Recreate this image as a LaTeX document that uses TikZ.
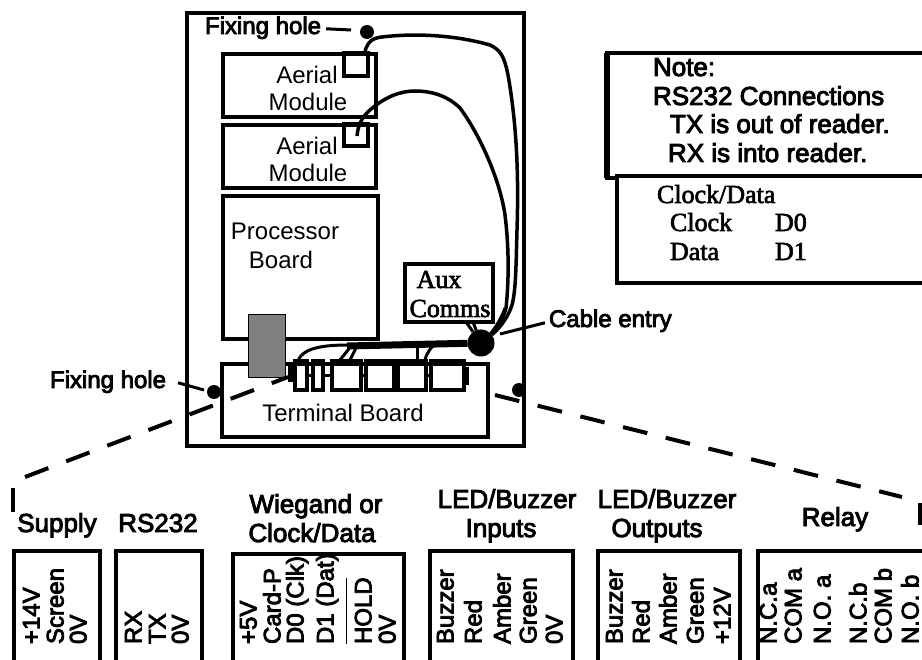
\documentclass[tikz,border=0pt]{standalone}
\usepackage{fontspec}
\setmainfont{Liberation Sans}
\newfontfamily\thinsans{Liberation Sans}
\newfontfamily\heavysans[FakeBold=3.5]{Liberation Sans}
\newfontfamily\heavyserif[FakeBold=2.5]{Liberation Serif}
\usetikzlibrary{positioning}
\usetikzlibrary{calc}

\begin{document}
\begin{tikzpicture} [x=1pt, y=-1pt]
% ------------------------------------------------- 
\tikzset{
  base/.style={inner sep=0pt, outer sep=0pt},
  rect/.style={base, draw, rectangle, anchor=north west, line width=4pt},
  slot/.style={base, draw, rectangle, anchor=north west, line width=3.5pt},
  hole/.style={base, circle, fill=black, minimum size=14pt},
  plain/.style={base, font=\thinsans\fontsize{24}{24}\selectfont},
  head/.style={base, anchor=base, font=\heavysans\fontsize{26}{26}\selectfont},
  note/.style={base, anchor=base west, font=\heavysans\fontsize{26}{26}\selectfont},
  clk/.style={base, anchor=base west, font=\heavyserif\fontsize{26}{26}\selectfont},
  pin/.style={base, rotate=90, anchor=west, text height=17pt, text depth=0pt, font=\heavysans\fontsize{24}{24}\selectfont},
  line/.style={draw, line width=3pt},
  cable/.style={draw, line width=3.5pt},
  dashline/.style={draw, line width=4pt, dash pattern=on 25pt off 19pt},
}
\useasboundingbox (0,0) rectangle (922,660);

    % enclosure and boards
    \node [rect, minimum width=337pt, minimum height=433pt] (case) at (187,13) {};
    \node [rect, minimum width=153pt, minimum height=63pt] (aerial1) at (223,54) {};
    \node [rect, minimum width=153pt, minimum height=63pt] (aerial2) at (223,125) {};
    \node [slot, minimum width=24pt, minimum height=23pt] (port1) at (344,53) {};
    \node [slot, minimum width=24pt, minimum height=22pt] (port2) at (344,124) {};
    \node [rect, minimum width=155pt, minimum height=143pt] (proc) at (223,196) {};
    \node [rect, minimum width=266pt, minimum height=73pt] (term) at (222,364) {};
    \node [rect, line width=3.5pt, minimum width=88pt, minimum height=58pt] (aux) at (405,264) {};

    \node [plain] (lblaerial1a) at (307,75) {Aerial};
    \node [plain] (lblaerial1b) at (308,102) {Module};
    \node [plain] (lblaerial2a) at (307,146) {Aerial};
    \node [plain] (lblaerial2b) at (308,173) {Module};
    \node [plain] (lblproca) at (285,231) {Processor};
    \node [plain] (lblprocb) at (281,260) {Board};
    \node [plain] (lblterm) at (343,413) {Terminal Board};
    \node [clk, anchor=base] (lblauxa) at (439,288) {Aux};
    \node [clk, anchor=base] (lblauxb) at (450,317) {Comms};

    % terminals along the top of the board
    \node [slot, minimum width=12pt, minimum height=29pt] (t1) at (295,361) {};
    \node [slot, minimum width=10pt, minimum height=29pt] (t2) at (313,361) {};
    \node [slot, minimum width=29pt, minimum height=29pt] (t3) at (332,361) {};
    \node [slot, minimum width=28pt, minimum height=29pt] (t4) at (366,361) {};
    \node [slot, minimum width=28pt, minimum height=29pt] (t5) at (398,361) {};
    \node [slot, minimum width=33pt, minimum height=29pt] (t6) at (431,361) {};
    \path [line] (t1) -- (t2);
    \path [line] (t2) -- (t3);
    \path [line] (t3) -- (t4);
    \path [line] (t4) -- (t5);
    \path [line] (t5) -- (t6);
    \coordinate (stub) at (290,362);
    \path [line, line width=5pt] (stub) -- ++(0,20);
    \path [line, line width=4pt] (stub |- t1.west) -- (t1.west);
    \path [line, line width=5pt] (t6.east) ++(2,-8) -- ++(0,18);

    % fixing holes and cable entry
    \node [hole] (hole1) at (367,32) {};
    \node [hole] (hole2) at (214,392) {};
    \node [hole] (hole3) at (519,390) {};
    \node [base, circle, fill=black, minimum size=27pt] (entry) at (481,343) {};
    \node [head, anchor=base west] (lblfix1) at (205,34) {\fontsize{24}{24}\selectfont Fixing hole};
    \node [head, anchor=base west] (lblfix2) at (50,388) {\fontsize{24}{24}\selectfont Fixing hole};
    \node [head, anchor=base west] (lblentry) at (549,327) {\fontsize{24}{24}\selectfont Cable entry};
    \path [line] (lblfix1.east) ++(5,1) -- ($(hole1)+(-16,-2)$);
    \path [line] (lblfix2.east) ++(12,1) -- ($(hole2)+(-10,-2)$);
    \path [line] (lblentry.west) ++(-4,2) -- ($(entry)+(19,-9)$);

    % cables
    \path [cable] (port1.north) ++(9,-2) .. controls (368,42) and (372,38) .. (382,37)
        .. controls (415,33) and (455,35) .. (490,45)
        .. controls (500,50) and (504,55) .. (508,75)
        .. controls (516,120) and (519,170) .. (517,230)
        .. controls (516,265) and (516,290) .. (512,305)
        .. controls (508,318) and (498,330) .. (entry);
    \path [cable] (port2.center) ++(1,1) .. controls (358,125) and (362,117) .. (370,110)
        .. controls (385,97) and (400,91) .. (415,91)
        .. controls (435,91) and (450,98) .. (460,108)
        .. controls (480,135) and (500,180) .. (505,215)
        .. controls (510,255) and (508,290) .. (506,308)
        .. controls (503,320) and (495,330) .. (entry);
    \path [line] (505,308) .. controls (500,322) and (492,332) .. (entry);
    \path [draw, line width=7pt] (entry) -- (347,346);
    \path [line] (350,345) .. controls (330,345) and (303,346) .. (298,361);
    \path [line] (340,360) -- (352,345);
    \path [line] (350,360) -- (357,346);
    \path [line] (417,360) -- (417,346);
    \path [line] (425,360) .. controls (427,352) and (431,348) .. (434,345);
    \path [line] (aux.south) ++(17,0) -- (entry);
    \path [line] (aux.south) ++(24,0) -- (entry);

    % grey connector block over the board
    \node [base, draw=black, thin, fill=black!50, anchor=north west, minimum width=37pt, minimum height=63pt] (block) at (248,314) {};

    % dashed lead-out
    \coordinate (leftend) at (25,477);
    \coordinate (leftstart) at (288,377);
    \coordinate (rightstart) at (495,395);
    \coordinate (rightend) at (902,497);
    \path [dashline] (leftend) -- (leftstart);
    \path [dashline] (rightstart) -- (rightend);
    \path [line, line width=4pt] (13,488) -- (13,512);
    \path [line, line width=5pt] (920,503) -- (920,525);

    % notes
    \node [rect, line width=4pt, minimum width=330pt, minimum height=125pt] (notebox) at (607,53) {};
    \path [line, line width=6pt] (notebox.north west) -- (notebox.south west);
    \node [rect, fill=white, line width=3.5pt, minimum width=320pt, minimum height=107pt] (clkbox) at (617,176) {};
    \node [note] (note1) at (653,76) {Note:};
    \node [note] (note2) at (653,105) {RS232 Connections};
    \node [note] (note3) at (670,133) {TX is out of reader.};
    \node [note] (note4) at (668,162) {RX is into reader.};
    \node [clk] (clk1) at (657,203) {Clock/Data};
    \node [clk] (clk2) at (670,231) {Clock};
    \node [clk] (clk3) at (775,231) {D0};
    \node [clk] (clk4) at (670,260) {Data};
    \node [clk] (clk5) at (775,260) {D1};

    % terminal blocks
    \node [rect, minimum width=86pt, minimum height=130pt] (bsupply) at (14,551) {};
    \node [rect, minimum width=86pt, minimum height=130pt] (brs) at (116,551) {};
    \node [rect, minimum width=171pt, minimum height=130pt] (bwieg) at (233,554) {};
    \node [rect, minimum width=143pt, minimum height=130pt] (binput) at (430,551) {};
    \node [rect, minimum width=142pt, minimum height=130pt] (boutput) at (598,551) {};
    \node [rect, minimum width=200pt, minimum height=130pt] (brelay) at (758,551) {};

    \node [head] (hsupply) at (57,532) {Supply};
    \node [head] (hrs) at (158,532) {RS232};
    \node [head] (hwieg1) at (316,513) {Wiegand or};
    \node [head] (hwieg2) at (312,542) {Clock/Data};
    \node [head] (hinput1) at (507,508) {LED/Buzzer};
    \node [head] (hinput2) at (501,537) {Inputs};
    \node [head] (houtput1) at (667,508) {LED/Buzzer};
    \node [head] (houtput2) at (657,537) {Outputs};
    \node [head] (hrelay) at (835,526) {Relay};

    \node [pin] (p1) at (31,644) {+14V};
    \node [pin] (p2) at (55,644) {Screen};
    \node [pin] (p3) at (78,644) {0V};

    \node [pin] (p4) at (133,644) {RX};
    \node [pin] (p5) at (157,644) {TX};
    \node [pin] (p6) at (180,644) {0V};

    \node [pin] (p7) at (248,644) {+5V};
    \node [pin] (p8) at (272,644) {Card-P};
    \node [pin] (p9) at (295,644) {D0 (Clk)};
    \node [pin] (p10) at (325,644) {D1 (Dat)};
    \node [pin] (p11) at (363,644) {HOLD};
    \node [pin] (p12) at (387,644) {0V};
    \path [draw, line width=1pt] (346,644) -- (346,578);

    \node [pin] (p13) at (445,644) {Buzzer};
    \node [pin] (p14) at (473,644) {Red};
    \node [pin] (p15) at (502,644) {Amber};
    \node [pin] (p16) at (528,644) {Green};
    \node [pin] (p17) at (554,644) {0V};

    \node [pin] (p18) at (614,644) {Buzzer};
    \node [pin] (p19) at (641,644) {Red};
    \node [pin] (p20) at (668,644) {Amber};
    \node [pin] (p21) at (695,644) {Green};
    \node [pin] (p22) at (722,644) {+12V};

    \node [pin] (p23) at (768,644) {N.C.a};
    \node [pin] (p24) at (793,644) {COM a};
    \node [pin] (p25) at (822,644) {N.O. a};
    \node [pin] (p26) at (858,644) {N.C.b};
    \node [pin] (p27) at (883,644) {COM b};
    \node [pin] (p28) at (910,644) {N.O. b};

\end{tikzpicture}
\end{document}
